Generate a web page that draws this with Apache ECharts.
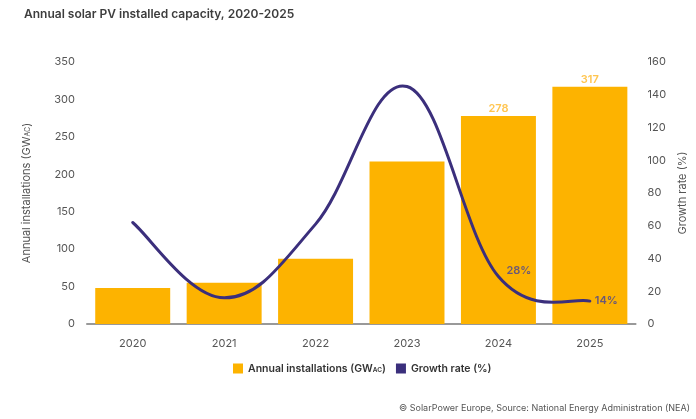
<!DOCTYPE html>
<html>
<head>
<meta charset="utf-8">
<script src="https://cdn.jsdelivr.net/npm/echarts@6/dist/echarts.min.js"></script>
<style>
html, body { margin: 0; padding: 0; background: #fff; }
#chart { width: 696px; height: 419px; }
</style>
</head>
<body>
<div id="chart"></div>
<script>
const years = ['2020', '2021', '2022', '2023', '2024', '2025'];
const installs = [48, 55, 87, 217, 278, 317];
const growth = [62, 16, 61, 145, 29, 14];
const growthLabels = ['', '', '', '', '28%', '14%'];
const leftTicks = [0, 350, 50];
const rightTicks = [0, 160, 20];

const ORANGE = '#FDB300';
const PURPLE = '#3B2F7C';
const FONT = 'Inter, "Noto Sans", sans-serif';
const TENSION = 0.19;

const chart = echarts.init(document.getElementById('chart'));

const barData = installs.map((v, i) => ({
    value: v,
    label: { show: i >= 4 }
}));

// smooth curve (Catmull-Rom) through the growth points, drawn once
function renderGrowth(params, api) {
    if (params.dataIndex !== 0) return null;
    const pts = growth.map((v, i) => api.coord([i, v]));
    const n = pts.length;
    let d = 'M' + pts[0][0] + ',' + pts[0][1];
    for (let i = 0; i < n - 1; i++) {
        const p0 = pts[Math.max(i - 1, 0)];
        const p1 = pts[i];
        const p2 = pts[i + 1];
        const p3 = pts[Math.min(i + 2, n - 1)];
        const c1 = [p1[0] + (p2[0] - p0[0]) * TENSION, p1[1] + (p2[1] - p0[1]) * TENSION];
        const c2 = [p2[0] - (p3[0] - p1[0]) * TENSION, p2[1] - (p3[1] - p1[1]) * TENSION];
        d += ' C' + c1[0] + ',' + c1[1] + ' ' + c2[0] + ',' + c2[1] + ' ' + p2[0] + ',' + p2[1];
    }
    const children = [{
        type: 'path',
        shape: { pathData: d },
        style: { stroke: PURPLE, lineWidth: 3, fill: null, lineCap: 'round' }
    }];
    growthLabels.forEach((t, i) => {
        if (!t) return;
        const p = api.coord([i, parseFloat(t)]);
        children.push({
            type: 'text',
            x: p[0] + (i === 4 ? 8 : 5),
            y: p[1] + (i === 4 ? -7 : 0),
            style: {
                text: t,
                fill: '#6A5878',
                fontSize: 11,
                fontWeight: 600,
                fontFamily: FONT,
                align: 'left',
                verticalAlign: 'middle'
            }
        });
    });
    return { type: 'group', children: children };
}

chart.setOption({
    animation: false,
    textStyle: { fontFamily: FONT },
    title: {
        text: 'Annual solar PV installed capacity, 2020-2025',
        left: 19,
        top: 3,
        textStyle: { fontSize: 12, fontWeight: 600, color: '#3d3d3d', fontFamily: FONT }
    },
    graphic: [{
        type: 'text',
        right: 6,
        top: 404,
        style: {
            text: '© SolarPower Europe, Source: National Energy Administration (NEA)',
            fontSize: 9,
            fill: '#555',
            fontFamily: FONT
        }
    }],
    legend: {
        bottom: 40,
        left: 228,
        icon: 'rect',
        itemWidth: 10,
        itemHeight: 10,
        itemGap: 10,
        textStyle: {
            fontSize: 10.5,
            fontWeight: 600,
            color: '#333',
            rich: {
                a: { fontSize: 10.5, fontWeight: 600, color: '#333' },
                s: { fontSize: 6.5, fontWeight: 600, color: '#333', padding: [3, 0, 0, 0] }
            }
        },
        formatter: name => name === 'Annual installations'
            ? '{a|Annual installations (GW}{s|AC}{a|)}'
            : '{a|' + name + '}',
        data: ['Annual installations', 'Growth rate (%)']
    },
    grid: { left: 87, right: 60, top: 62, bottom: 95 },
    xAxis: {
        type: 'category',
        data: years,
        axisLine: { lineStyle: { color: '#999', width: 2 } },
        axisTick: { show: false },
        axisLabel: { color: '#555', fontSize: 11, margin: 14 }
    },
    yAxis: [{
        type: 'value',
        min: leftTicks[0],
        max: leftTicks[1],
        interval: leftTicks[2],
        name: '{a|Annual installations (GW}{s|AC}{a|)}',
        nameLocation: 'middle',
        nameGap: 55,
        nameTextStyle: {
            rich: {
                a: { fontSize: 11, color: '#555' },
                s: { fontSize: 7, color: '#555', padding: [3, 0, 0, 0] }
            }
        },
        splitLine: { show: false },
        axisLine: { show: false },
        axisTick: { show: false },
        axisLabel: { color: '#555', fontSize: 11, margin: 12 }
    }, {
        type: 'value',
        min: rightTicks[0],
        max: rightTicks[1],
        interval: rightTicks[2],
        name: 'Growth rate (%)',
        nameLocation: 'middle',
        nameGap: 39,
        nameRotate: 90,
        nameTextStyle: { fontSize: 11, color: '#555' },
        splitLine: { show: false },
        axisLine: { show: false },
        axisTick: { show: false },
        axisLabel: { color: '#555', fontSize: 11, margin: 12 }
    }],
    series: [{
        name: 'Annual installations',
        type: 'bar',
        data: barData,
        barCategoryGap: '18%',
        itemStyle: { color: ORANGE },
        label: {
            position: 'top',
            distance: 2,
            color: '#FFC550',
            fontSize: 11,
            fontWeight: 600
        }
    }, {
        name: 'Growth rate (%)',
        type: 'custom',
        yAxisIndex: 1,
        data: growth.map((v, i) => [i, v]),
        encode: { x: 0, y: 1 },
        itemStyle: { color: PURPLE },
        renderItem: renderGrowth,
        z: 3
    }]
});
</script>
</body>
</html>
